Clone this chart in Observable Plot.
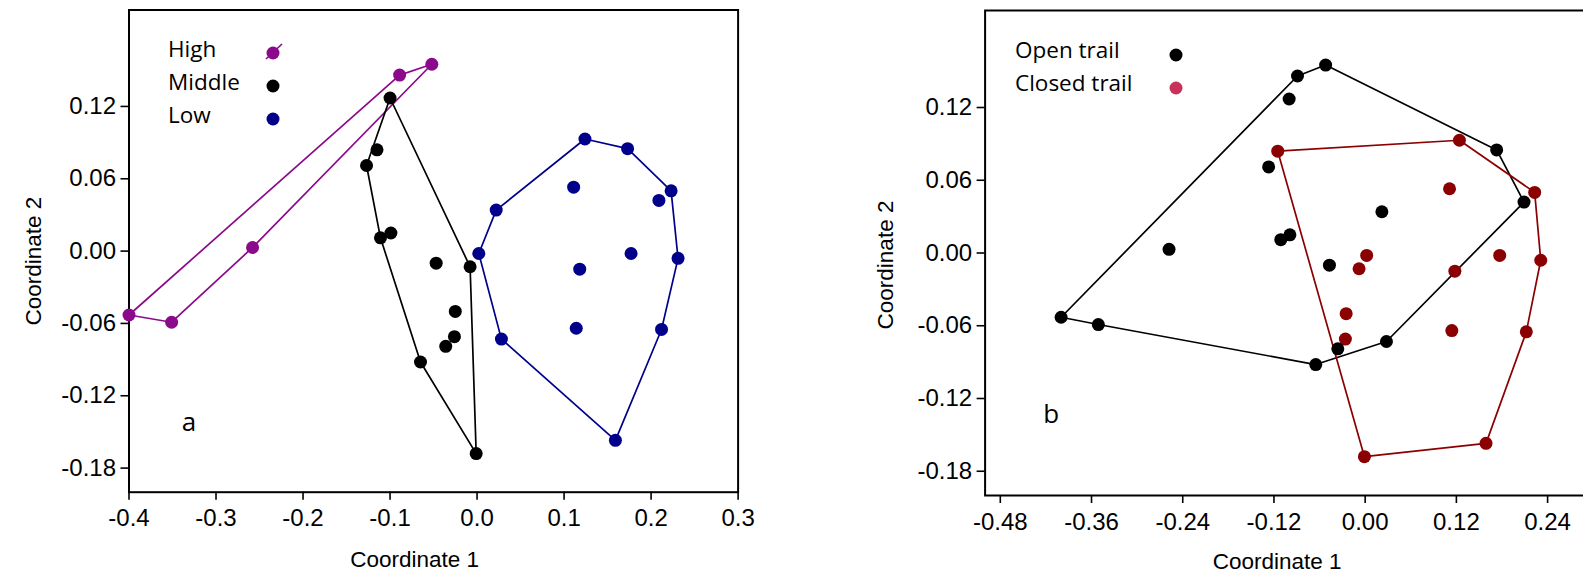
<!DOCTYPE html>
<html>
<head>
<meta charset="utf-8">
<script src="https://cdn.jsdelivr.net/npm/d3@7"></script>
<script src="https://cdn.jsdelivr.net/npm/@observablehq/plot@0.6"></script>
<style>
  html, body { margin: 0; padding: 0; background: #fff; overflow: hidden; }
  #wrap { position: relative; width: 1583px; height: 580px; overflow: hidden; background: #fff; }
  .panel { position: absolute; top: 0; }
  .legend { position: absolute; font-family: "Open Sans", "Noto Sans", sans-serif; font-size: 22.5px; color: #000; }
  .legend .row { position: absolute; white-space: nowrap; line-height: 1; }
  .legend svg { position: absolute; overflow: visible; }
</style>
</head>
<body>
<div id="wrap"></div>
<script>
// ---- data ----
const coord1 = [-0.400, -0.351, -0.258, -0.089, -0.052,
  -0.100, -0.115, -0.127, -0.111, -0.099, -0.047, -0.008, -0.025, -0.026, -0.036, -0.065, -0.001,
  0.124, 0.173, 0.111, 0.223, 0.209, 0.022, 0.002, 0.177, 0.231, 0.118, 0.114, 0.212, 0.028, 0.159];
const coord2 = [-0.053, -0.059, 0.003, 0.146, 0.155,
  0.127, 0.084, 0.071, 0.011, 0.015, -0.010, -0.013, -0.050, -0.071, -0.079, -0.092, -0.168,
  0.093, 0.085, 0.053, 0.050, 0.042, 0.034, -0.002, -0.002, -0.006, -0.015, -0.064, -0.065, -0.073, -0.157];
const level = ["High","High","High","High","High",
  "Middle","Middle","Middle","Middle","Middle","Middle","Middle","Middle","Middle","Middle","Middle","Middle",
  "Low","Low","Low","Low","Low","Low","Low","Low","Low","Low","Low","Low","Low","Low"];
const trail = ["Open trail","Open trail","Open trail","Open trail","Open trail",
  "Open trail","Closed trail","Open trail","Open trail","Open trail","Open trail","Closed trail","Closed trail","Closed trail","Open trail","Open trail","Closed trail",
  "Closed trail","Open trail","Closed trail","Closed trail","Open trail","Open trail","Closed trail","Closed trail","Closed trail","Closed trail","Closed trail","Closed trail","Open trail","Closed trail"];

const levelNames = ["High", "Middle", "Low"];
const levelColors = ["#8b0a8b", "#000000", "#00008b"];
const trailNames = ["Open trail", "Closed trail"];
const trailColors = ["#000000", "#8b0000"];
const trailLegendColors = ["#000000", "#c8325a"];

const yTicks = [-0.18, -0.12, -0.06, 0, 0.06, 0.12];
const xTicksA = [-0.4, -0.3, -0.2, -0.1, 0, 0.1, 0.2, 0.3];
const xTicksB = [-0.48, -0.36, -0.24, -0.12, 0, 0.12, 0.24];

const data = coord1.map((v, i) => ({c1: v, c2: coord2[i], level: level[i], trail: trail[i]}));

const wrap = document.getElementById("wrap");
const tickFont = "'Liberation Sans', Arial, sans-serif";
const labelFont = "'Open Sans', 'Noto Sans', sans-serif";

function panel({group, names, colors, xDomain, xTicks, xFmt, width, left, margins, letter, letterDx, letterDy, titleXdy, titleXdx, titleYdx, titleYdy}) {
  const p = Plot.plot({
    width, height: 580,
    marginLeft: margins[0], marginRight: margins[1], marginTop: margins[2], marginBottom: margins[3],
    style: {fontFamily: tickFont, fontSize: "24px", color: "#000", background: "transparent", overflow: "visible"},
    x: {domain: xDomain},
    y: {domain: [-0.2, 0.2]},
    color: {domain: names, range: colors},
    marks: [
      Plot.frame({stroke: "#000", strokeWidth: 2}),
      Plot.axisX({ticks: xTicks, tickFormat: xFmt, tickSize: 8, tickPadding: 9, strokeWidth: 1.6, label: null, fontSize: 24}),
      Plot.axisY({ticks: yTicks, tickFormat: d => d.toFixed(2), tickSize: 8, tickPadding: 5, strokeWidth: 1.6, label: null, fontSize: 24}),
      Plot.hull(data, {x: "c1", y: "c2", stroke: group, strokeWidth: 1.7}),
      Plot.dot(data, {x: "c1", y: "c2", fill: group, r: 6.5}),
      Plot.text(["Coordinate 1"], {frameAnchor: "bottom", textAnchor: "middle", lineAnchor: "middle", dx: titleXdx, dy: titleXdy, fontSize: 22.5, fontFamily: tickFont}),
      Plot.text(["Coordinate 2"], {frameAnchor: "left", textAnchor: "middle", lineAnchor: "middle", dx: titleYdx, dy: titleYdy, rotate: -90, fontSize: 22.5, fontFamily: tickFont}),
      Plot.text([letter], {frameAnchor: "bottom-left", textAnchor: "middle", lineAnchor: "middle", dx: letterDx, dy: letterDy, fontSize: 26, fontFamily: labelFont})
    ]
  });
  p.classList.add("panel");
  p.style.left = left + "px";
  wrap.appendChild(p);
}

panel({
  group: "level", names: levelNames, colors: levelColors,
  xDomain: [-0.4, 0.3], xTicks: xTicksA, xFmt: d => d.toFixed(1),
  width: 760, left: 0, margins: [128.5, 22.4, 9.5, 88.3],
  letter: "a", letterDx: 60, letterDy: -70, titleXdx: -19, titleXdy: 68, titleYdx: -95, titleYdy: 10
});

panel({
  group: "trail", names: trailNames, colors: trailColors,
  xDomain: [-0.5, 0.3], xTicks: xTicksB, xFmt: d => d.toFixed(2),
  width: 820, left: 800, margins: [184.6, 27.3, 10, 85],
  letter: "b", letterDx: 66, letterDy: -81, titleXdx: -12, titleXdy: 66, titleYdx: -99, titleYdy: 12
});

// ---- legends ----
function legend(names, colors, textLeft, markerX, rowYs, markerDy, extraLine) {
  const lg = document.createElement("div");
  lg.className = "legend";
  lg.style.left = "0px"; lg.style.top = "0px";
  names.forEach((n, i) => {
    const row = document.createElement("div");
    row.className = "row";
    row.textContent = n;
    row.style.left = textLeft + "px";
    row.style.top = (rowYs[i] - 12) + "px";
    lg.appendChild(row);
    const ns = "http://www.w3.org/2000/svg";
    const s = document.createElementNS(ns, "svg");
    s.setAttribute("width", 20); s.setAttribute("height", 20);
    s.style.left = (markerX - 10) + "px";
    s.style.top = (rowYs[i] + markerDy - 10) + "px";
    if (extraLine && i === 0) {
      const l = document.createElementNS(ns, "line");
      l.setAttribute("x1", 3); l.setAttribute("y1", 16); l.setAttribute("x2", 19); l.setAttribute("y2", 1);
      l.setAttribute("stroke", colors[i]); l.setAttribute("stroke-width", 1.6);
      s.appendChild(l);
    }
    const c = document.createElementNS(ns, "circle");
    c.setAttribute("cx", 10); c.setAttribute("cy", 10); c.setAttribute("r", 6.5);
    c.setAttribute("fill", colors[i]);
    s.appendChild(c);
    lg.appendChild(s);
  });
  wrap.appendChild(lg);
}
legend(levelNames, levelColors, 168, 273, [50, 83, 116], 3, true);
legend(trailNames, trailLegendColors, 1015, 1176, [51, 84], 4, false);
</script>
</body>
</html>
